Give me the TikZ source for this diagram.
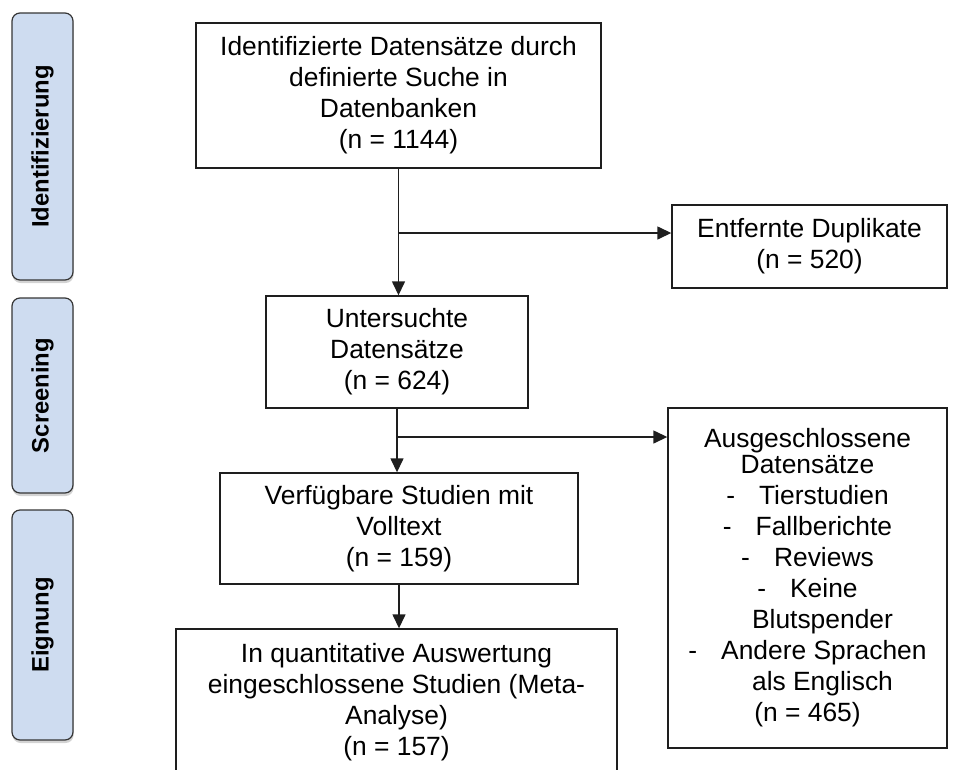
\documentclass[tikz,border=0pt]{standalone}
\usepackage{fontspec}
\setmainfont{Liberation Sans}
\usetikzlibrary{arrows.meta,shadows}
\definecolor{phasefill}{RGB}{206,220,240}
\definecolor{edgecol}{RGB}{30,30,30}
\begin{document}
\begin{tikzpicture}[x=1pt,y=1pt,
  box/.style={draw=edgecol,line width=1.4pt,fill=white,align=center,inner sep=0pt,
    font=\fontsize{26.4}{31}\selectfont},
  phasebox/.style={draw=edgecol!90,line width=1.2pt,fill=phasefill,rounded corners=8pt,
    minimum width=61pt,inner sep=0pt,
    drop shadow={shadow xshift=0.6pt,shadow yshift=-3pt,opacity=0.35}},
  phaselabel/.style={rotate=90,inner sep=0pt,font=\fontsize{23.8}{28}\selectfont\bfseries},
  arr/.style={draw=edgecol,line width=1.4pt,-{Triangle[length=14pt,width=13pt]}}]
\useasboundingbox (0,0) rectangle (953,-769);
\clip (0,0) rectangle (953,-769);

% phase bars
\node[phasebox,minimum height=267pt] (p1) at (42.5,-146.5) {};
\node[phaselabel] (p1t) at (p1) {Identifizierung};
\node[phasebox,minimum height=195pt] (p2) at (42.5,-395.5) {};
\node[phaselabel] (p2t) at (p2) {Screening};
\node[phasebox,minimum height=230pt] (p3) at (42.5,-625) {};
\node[phaselabel] (p3t) at (p3) {Eignung};

% boxes
\node[box,minimum width=405pt,minimum height=145pt] (b1) at (398.5,-95.5)
  {Identifizierte Datensätze durch\\definierte Suche in\\Datenbanken\\(n = 1144)};
\node[box,minimum width=275pt,minimum height=83pt] (entf) at (809.5,-246.5)
  {Entfernte Duplikate\\(n = 520)};
\node[box,minimum width=262pt,minimum height=112pt] (unt) at (397,-352)
  {Untersuchte\\Datensätze\\(n = 624)};
\node[box,minimum width=358pt,minimum height=111pt] (verf) at (399,-528.5)
  {Verfügbare Studien mit\\Volltext\\(n = 159)};
\node[box,minimum width=279pt,minimum height=340pt] (ausg) at (807.5,-578)
  {Ausgeschlossene\\[-5pt]Datensätze\\
   -\hspace{24pt}Tierstudien\\
   -\hspace{24pt}Fallberichte\\
   -\hspace{24pt}Reviews\\
   -\hspace{24pt}Keine\\
   \hspace*{30pt}Blutspender\\
   -\hspace{24pt}Andere Sprachen\\
   \hspace*{30pt}als Englisch\\
   (n = 465)};
\node[box,minimum width=441pt,minimum height=146pt] (quant) at (396.5,-702)
  {In quantitative Auswertung\\eingeschlossene Studien (Meta-\\Analyse)\\(n = 157)};

% connectors
\coordinate (j1) at (b1.south |- 0,-233);
\coordinate (j2) at (unt.south |- 0,-437);
\draw[arr] (b1.south) -- (b1.south |- unt.north);
\draw[arr] (j1) -- (j1 -| entf.west);
\draw[arr] (unt.south) -- (unt.south |- verf.north);
\draw[arr] (j2) -- (j2 -| ausg.west);
\draw[arr] (verf.south) -- (verf.south |- quant.north);
\end{tikzpicture}
\end{document}
